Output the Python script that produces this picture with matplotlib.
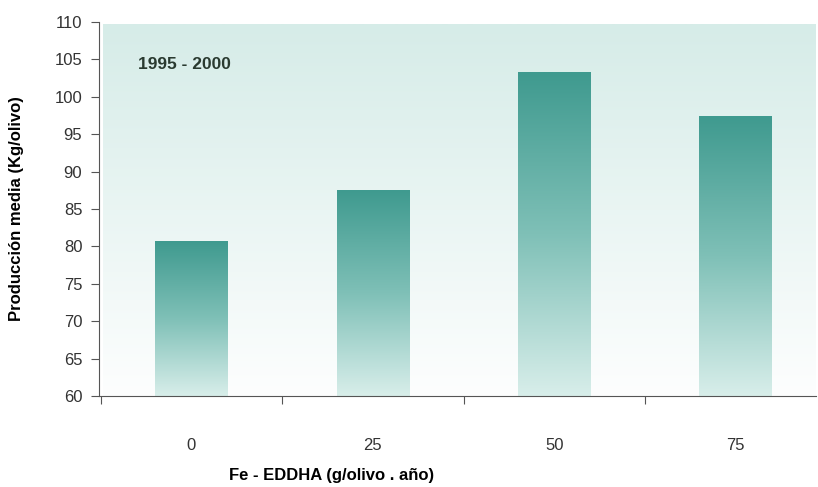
import numpy as np
import matplotlib
matplotlib.use('Agg')
import matplotlib.pyplot as plt
from matplotlib.colors import LinearSegmentedColormap

dosis = ['0', '25', '50', '75']
produccion = [80.6, 87.5, 103.2, 97.3]
yticks = [60, 65, 70, 75, 80, 85, 90, 95, 100, 105, 110]

plt.rcParams['font.family'] = ['Liberation Sans', 'DejaVu Sans']

fig = plt.figure(figsize=(8.18, 4.87), dpi=100)
ax = fig.add_axes([0.121, 0.187, 0.876, 0.768])

x = np.arange(len(dosis))
ancho = 0.4
ax.set_xlim(-0.51, 3.44)
ax.set_ylim(60, 110)

# fondo degradado
fondo = LinearSegmentedColormap.from_list('fondo', ['#fdfefe', '#d6ece8'])
ax.imshow(np.linspace(0, 1, 256).reshape(-1, 1), cmap=fondo, aspect='auto',
          origin='lower', extent=[-0.49, 3.44, 60, 109.6], zorder=0)

# barras con degradado
barra = LinearSegmentedColormap.from_list('barra', ['#d8eeea', '#7fc0b7', '#3f9a8f'])
bars = ax.bar(x, produccion, width=ancho, bottom=0, color='none', zorder=2)
for b, v in zip(bars, produccion):
    x0 = b.get_x()
    ax.imshow(np.linspace(0, 1, 256).reshape(-1, 1), cmap=barra, aspect='auto',
              origin='lower', extent=[x0, x0 + ancho, 60, v], zorder=2)

ax.set_yticks(yticks)
ax.set_xticks(x - 0.5, minor=False)
ax.set_xticklabels([''] * len(x))
ax.set_xticks(x, minor=True)
ax.set_xticklabels(dosis, minor=True)
ax.tick_params(axis='x', which='minor', length=0, pad=30, labelsize=12, colors='#333333')
ax.tick_params(axis='x', which='major', length=6, direction='out', color='#555555')
ax.tick_params(axis='y', length=6, direction='out', color='#555555', labelsize=12,
               labelcolor='#333333', pad=6)

for s in ['top', 'right']:
    ax.spines[s].set_visible(False)
ax.spines['left'].set_color('#555555')
ax.spines['bottom'].set_color('#555555')

ax.set_ylabel('Producción media (Kg/olivo)', fontsize=12, fontweight='bold', labelpad=14)
ax.yaxis.set_label_coords(-0.105, 0.5)
ax.set_xlabel('Fe - EDDHA (g/olivo . año)', fontsize=12, fontweight='bold')
ax.xaxis.set_label_coords(0.325, -0.193)
ax.text(0.054, 0.875, '1995 - 2000', transform=ax.transAxes, fontsize=12.5,
        fontweight='bold', color='#2a3a30')

fig.savefig('out.png', dpi=100)
